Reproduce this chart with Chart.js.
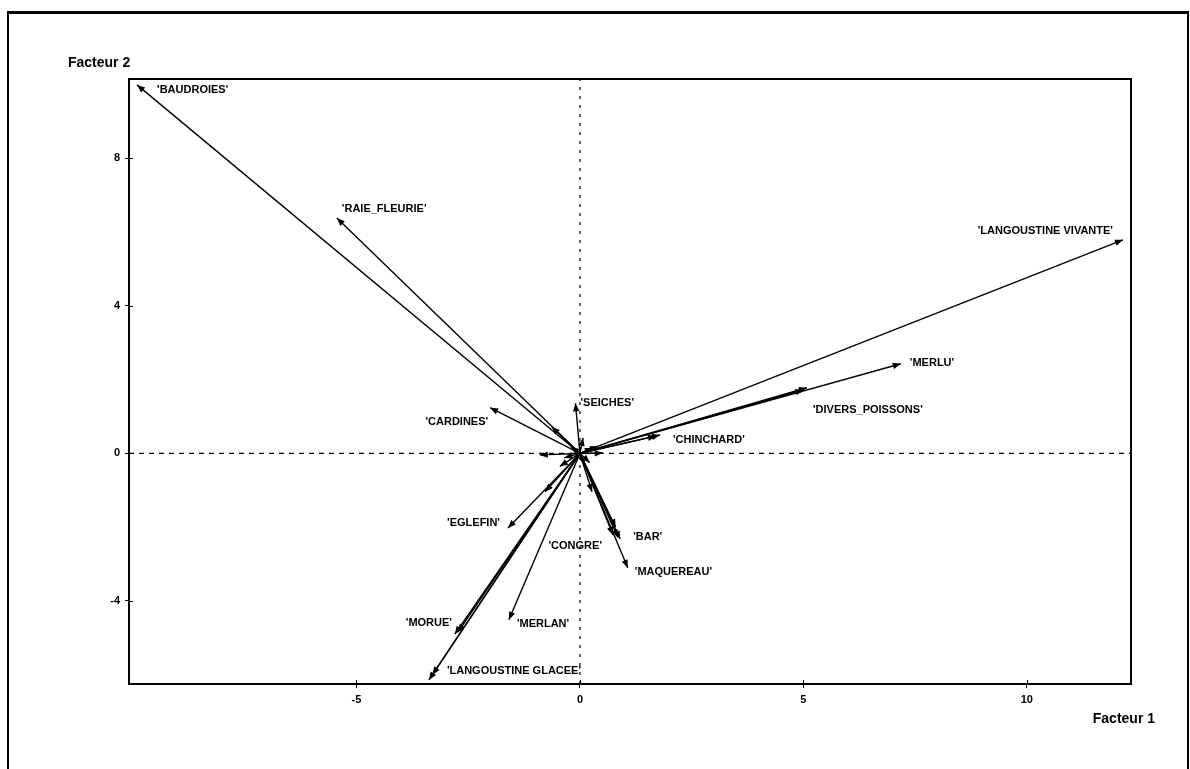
<!DOCTYPE html>
<html>
<head>
<meta charset="utf-8">
<script src="https://cdn.jsdelivr.net/npm/chart.js@4.4.1/dist/chart.umd.min.js"></script>
<style>
  html, body { margin: 0; padding: 0; background: #fff; overflow: hidden; }
  #frame {
    position: absolute; left: 7px; top: 11px; width: 1182px; height: 800px;
    box-sizing: border-box; border-top: 3px solid #000;
    border-left: 2px solid #000; border-right: 2px solid #000;
  }
  #chart { position: absolute; left: 0; top: 0; }
</style>
</head>
<body>
<div id="frame"></div>
<canvas id="chart" width="1190" height="769"></canvas>
<script>
// variable coordinates on the first two factors
const species = [
  "'BAUDROIES'", "'RAIE_FLEURIE'", "'LANGOUSTINE VIVANTE'", "'MERLU'",
  "'DIVERS_POISSONS'", "'CHINCHARD'", "'SEICHES'", "'CARDINES'", "'EGLEFIN'",
  "'BAR'", "'CONGRE'", "'MAQUEREAU'", "'MERLAN'", "'MORUE'", "'LANGOUSTINE GLACEE'"
];
const factor1 = [-9.91, -5.44, 12.15, 7.18, 5.08, 1.79, -0.10, -2.01, -1.61, 0.90, 0.74, 1.07, -1.59, -2.73, -3.38];
const factor2 = [9.99, 6.38, 5.79, 2.43, 1.78, 0.50, 1.36, 1.24, -2.02, -2.32, -2.21, -3.10, -4.51, -4.84, -6.14];

// short unlabelled vectors around the origin
const minorF1 = [-0.90, -0.63, 0.07, 0.29, 0.51, -0.78, 0.27, 1.70, 5.00, -2.80, -3.30, 0.85, 0.80, -0.35, 0.22, -0.20, 0.40, -0.45, 0.10];
const minorF2 = [-0.04, 0.72, 0.42, 0.15, 0.01, -1.04, -1.04, 0.47, 1.72, -4.90, -6.00, -2.28, -2.00, -0.12, -0.25, 0.18, 0.20, -0.35, -0.30];

const xTicks = [-5, 0, 5, 10];
const yTicks = [-4, 0, 4, 8];
const xMin = -10.09, xMax = 12.33;
const yMin = -6.25, yMax = 10.15;

// where each label sits relative to its arrow tip: [dx, dy, align]
const labelPlacement = [
  [20, 5, "left"], [5, -9, "left"], [-10, -9, "right"], [9, -1, "left"],
  [6, 22, "left"], [13, 5, "left"], [5, 0, "left"], [-2, 14, "right"],
  [-8, -5, "right"], [13, -2, "left"], [-11, 11, "right"], [7, 4, "left"],
  [8, 4, "left"], [-6, -9, "right"], [18, -9, "left"]
];

const FONT = "'Liberation Sans', Arial, sans-serif";

const vector = (x, y, label) => ({
  label: label,
  data: [{ x: 0, y: 0 }, { x: x, y: y }],
  showLine: true,
  borderColor: "#000",
  borderWidth: 1.4,
  pointRadius: 0,
  isVector: true,
});

const datasets = [
  {
    label: "axe1",
    data: [{ x: xMin, y: 0 }, { x: xMax, y: 0 }],
    showLine: true, borderColor: "#000", borderWidth: 1.2,
    borderDash: [5, 5], pointRadius: 0,
  },
  {
    label: "axe2",
    data: [{ x: 0, y: yMin }, { x: 0, y: yMax }],
    showLine: true, borderColor: "#000", borderWidth: 1.2,
    borderDash: [3, 6], pointRadius: 0,
  },
];
species.forEach((name, i) => datasets.push(vector(factor1[i], factor2[i], name)));
minorF1.forEach((v, i) => datasets.push(vector(v, minorF2[i], "")));

const arrowPlugin = {
  id: "arrows",
  afterDatasetsDraw(chart) {
    const ctx = chart.ctx;
    const xs = chart.scales.x, ys = chart.scales.y;
    const x0 = xs.getPixelForValue(0), y0 = ys.getPixelForValue(0);
    ctx.save();
    ctx.fillStyle = "#000";
    chart.data.datasets.forEach((ds) => {
      if (!ds.isVector) return;
      const p = ds.data[1];
      const tx = xs.getPixelForValue(p.x), ty = ys.getPixelForValue(p.y);
      const a = Math.atan2(ty - y0, tx - x0);
      const len = 8, half = 3.2;
      ctx.beginPath();
      ctx.moveTo(tx, ty);
      ctx.lineTo(tx - len * Math.cos(a) + half * Math.sin(a), ty - len * Math.sin(a) - half * Math.cos(a));
      ctx.lineTo(tx - len * Math.cos(a) - half * Math.sin(a), ty - len * Math.sin(a) + half * Math.cos(a));
      ctx.closePath();
      ctx.fill();
    });

    // variable names
    ctx.font = "bold 11px " + FONT;
    ctx.textBaseline = "middle";
    species.forEach((name, i) => {
      const tx = xs.getPixelForValue(factor1[i]), ty = ys.getPixelForValue(factor2[i]);
      const pl = labelPlacement[i];
      ctx.textAlign = pl[2];
      ctx.fillText(name, tx + pl[0], ty + pl[1]);
    });
    ctx.restore();
  },
  afterDraw(chart) {
    const ctx = chart.ctx;
    const area = chart.chartArea;
    const xs = chart.scales.x, ys = chart.scales.y;
    ctx.save();
    ctx.strokeStyle = "#000";
    ctx.lineWidth = 2;
    ctx.strokeRect(area.left, area.top, area.right - area.left, area.bottom - area.top);

    // inner half of the tick crosses
    ctx.lineWidth = 1;
    ctx.beginPath();
    xTicks.forEach((v) => {
      const px = Math.round(xs.getPixelForValue(v)) + 0.5;
      ctx.moveTo(px, area.bottom);
      ctx.lineTo(px, area.bottom - 4);
    });
    yTicks.forEach((v) => {
      const py = Math.round(ys.getPixelForValue(v)) + 0.5;
      ctx.moveTo(area.left, py);
      ctx.lineTo(area.left + 4, py);
    });
    ctx.stroke();

    ctx.fillStyle = "#000";
    ctx.font = "bold 14px " + FONT;
    ctx.textBaseline = "middle";
    ctx.textAlign = "left";
    ctx.fillText("Facteur 2", 68, 63);
    ctx.textAlign = "right";
    ctx.fillText("Facteur 1", 1155, 719);
    ctx.restore();
  },
};

const axisTicks = (values) => (scale) => {
  scale.ticks = values.map((v) => ({ value: v }));
};

new Chart(document.getElementById("chart").getContext("2d"), {
  type: "scatter",
  data: { datasets: datasets },
  options: {
    responsive: false,
    animation: false,
    layout: { padding: { left: 0, top: 79, right: 59, bottom: 55 } },
    plugins: { legend: { display: false }, tooltip: { enabled: false } },
    scales: {
      x: {
        type: "linear",
        min: xMin,
        max: xMax,
        afterBuildTicks: axisTicks(xTicks),
        afterFit: (scale) => { scale.height = 30; },
        grid: { drawOnChartArea: false, color: "#000", tickLength: 4 },
        border: { color: "#000", width: 2 },
        ticks: { color: "#000", font: { family: FONT, size: 11, weight: "bold" }, padding: 5 },
      },
      y: {
        type: "linear",
        min: yMin,
        max: yMax,
        afterBuildTicks: axisTicks(yTicks),
        afterFit: (scale) => { scale.width = 129; },
        grid: { drawOnChartArea: false, color: "#000", tickLength: 4 },
        border: { color: "#000", width: 2 },
        ticks: { color: "#000", font: { family: FONT, size: 11, weight: "bold" }, padding: 5 },
      },
    },
  },
  plugins: [arrowPlugin],
});
</script>
</body>
</html>
